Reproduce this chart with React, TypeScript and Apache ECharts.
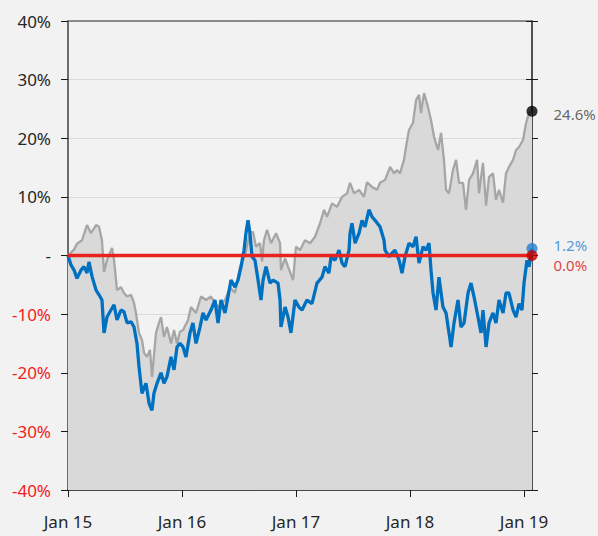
import React, { useEffect, useRef } from "react";
import * as echarts from "echarts";

// [year, % change]
const indexSeries: [number, number][] = [
  [2015.0, 0], [2015.026, 0.5], [2015.053, 1.0], [2015.079, 2.0], [2015.123, 2.6], [2015.158, 4.7],
  [2015.167, 5.2], [2015.202, 3.8], [2015.246, 5.2], [2015.272, 4.9], [2015.298, 2.6], [2015.316, -2.8],
  [2015.342, -0.8], [2015.386, 1.3], [2015.404, -0.8], [2015.43, -5.9], [2015.465, -5.4], [2015.491, -6.4],
  [2015.518, -7.0], [2015.553, -6.7], [2015.579, -8.1], [2015.596, -9.8], [2015.623, -13.2], [2015.649, -14.4],
  [2015.667, -16.6], [2015.693, -17.3], [2015.719, -16.1], [2015.737, -20.7], [2015.772, -13.2], [2015.798, -11.5],
  [2015.816, -10.5], [2015.842, -13.9], [2015.868, -12.2], [2015.904, -15.0], [2015.93, -12.7], [2015.956, -15.0],
  [2015.982, -13.0], [2016.009, -12.7], [2016.053, -11.0], [2016.079, -8.8], [2016.123, -9.8], [2016.167, -7.0],
  [2016.211, -7.6], [2016.254, -7.0], [2016.316, -8.8], [2016.377, -7.6], [2016.421, -5.4], [2016.465, -6.4],
  [2016.509, -1.9], [2016.553, 0], [2016.596, 4.0], [2016.623, 4.0], [2016.649, 1.5], [2016.684, 2.1],
  [2016.702, -1.0], [2016.719, 2.6], [2016.746, 4.4], [2016.781, 2.1], [2016.825, 3.8], [2016.86, 2.1],
  [2016.868, -2.5], [2016.904, -0.5], [2016.93, -1.9], [2016.974, -4.2], [2017.0, 1.5], [2017.035, 0.9],
  [2017.079, 2.6], [2017.123, 2.1], [2017.167, 3.2], [2017.211, 5.5], [2017.246, 7.8], [2017.272, 6.6],
  [2017.316, 8.9], [2017.36, 8.3], [2017.404, 10.0], [2017.447, 10.6], [2017.474, 12.4], [2017.509, 10.6],
  [2017.553, 11.2], [2017.596, 10.0], [2017.623, 12.5], [2017.667, 11.7], [2017.711, 11.2], [2017.737, 12.4],
  [2017.781, 12.9], [2017.825, 15.1], [2017.86, 14.0], [2017.886, 14.6], [2017.912, 14.0], [2017.947, 16.3],
  [2017.965, 18.5], [2017.991, 21.4], [2018.026, 22.6], [2018.053, 26.5], [2018.079, 27.4], [2018.096, 24.3],
  [2018.123, 27.7], [2018.158, 25.3], [2018.184, 23.1], [2018.211, 20.2], [2018.246, 18.0], [2018.272, 20.9],
  [2018.298, 16.3], [2018.316, 11.2], [2018.342, 10.6], [2018.377, 14.6], [2018.404, 16.3], [2018.43, 12.4],
  [2018.465, 12.4], [2018.491, 7.8], [2018.518, 12.9], [2018.553, 14.0], [2018.588, 16.3], [2018.605, 10.6],
  [2018.64, 15.8], [2018.667, 8.5], [2018.693, 13.4], [2018.728, 14.0], [2018.754, 9.5], [2018.781, 11.2],
  [2018.816, 9.0], [2018.842, 14.0], [2018.868, 15.1], [2018.904, 16.3], [2018.93, 18.0], [2018.956, 18.5],
  [2018.991, 19.7], [2019.018, 22.6], [2019.044, 24.3], [2019.07, 24.6],
];

const fundSeries: [number, number][] = [
  [2015.0, 0], [2015.026, -1.6], [2015.053, -2.5], [2015.079, -3.9], [2015.114, -2.5], [2015.14, -1.9],
  [2015.167, -3.0], [2015.184, -1.1], [2015.211, -3.6], [2015.246, -5.9], [2015.272, -6.7], [2015.298, -7.6],
  [2015.316, -13.2], [2015.342, -10.5], [2015.377, -9.3], [2015.404, -8.4], [2015.43, -11.0], [2015.465, -9.3],
  [2015.491, -9.6], [2015.518, -11.5], [2015.553, -11.3], [2015.579, -12.2], [2015.605, -15.0], [2015.623, -19.0],
  [2015.649, -23.5], [2015.684, -21.8], [2015.711, -25.2], [2015.737, -26.4], [2015.754, -23.5], [2015.781, -21.8],
  [2015.816, -20.0], [2015.842, -21.8], [2015.868, -20.7], [2015.904, -17.3], [2015.93, -19.5], [2015.956, -15.6],
  [2015.982, -15.0], [2016.009, -15.6], [2016.035, -17.3], [2016.07, -13.2], [2016.096, -11.5], [2016.123, -15.0],
  [2016.158, -12.2], [2016.184, -9.8], [2016.211, -11.0], [2016.254, -9.3], [2016.289, -7.6], [2016.316, -11.5],
  [2016.342, -7.6], [2016.377, -9.8], [2016.404, -7.0], [2016.43, -4.2], [2016.465, -5.4], [2016.491, -4.2],
  [2016.518, -1.9], [2016.544, 0.9], [2016.561, 3.8], [2016.579, 6.0], [2016.596, 3.8], [2016.614, -0.2],
  [2016.64, -0.8], [2016.667, -4.2], [2016.693, -7.6], [2016.711, -4.2], [2016.737, -1.9], [2016.772, -4.7],
  [2016.798, -4.2], [2016.842, -4.7], [2016.86, -7.6], [2016.868, -12.2], [2016.904, -8.8], [2016.93, -10.5],
  [2016.956, -13.2], [2016.991, -7.6], [2017.026, -8.8], [2017.053, -9.3], [2017.096, -7.6], [2017.14, -8.2],
  [2017.184, -4.7], [2017.228, -3.7], [2017.254, -1.9], [2017.289, -3.0], [2017.307, -0.2], [2017.342, -0.8],
  [2017.377, 0.9], [2017.404, -1.3], [2017.43, -1.9], [2017.465, 0.9], [2017.474, 3.8], [2017.491, 5.5],
  [2017.518, 2.1], [2017.553, 3.8], [2017.579, 6.0], [2017.605, 4.9], [2017.64, 7.8], [2017.667, 6.6],
  [2017.693, 6.0], [2017.737, 4.9], [2017.772, 2.6], [2017.781, 0.9], [2017.816, -0.2], [2017.842, 0.4],
  [2017.868, 0.9], [2017.904, -0.8], [2017.93, -3.0], [2017.956, -0.2], [2017.991, 2.1], [2018.026, 1.5],
  [2018.053, 3.2], [2018.079, -1.3], [2018.114, 1.5], [2018.14, 0.9], [2018.167, 2.1], [2018.184, -2.5],
  [2018.202, -6.4], [2018.228, -9.3], [2018.254, -3.7], [2018.289, -8.8], [2018.316, -9.8], [2018.342, -13.2],
  [2018.36, -15.6], [2018.386, -11.5], [2018.421, -7.6], [2018.447, -12.2], [2018.474, -11.5], [2018.509, -6.4],
  [2018.535, -4.7], [2018.561, -7.0], [2018.596, -10.5], [2018.623, -13.2], [2018.64, -9.3], [2018.667, -15.6],
  [2018.693, -11.5], [2018.728, -9.8], [2018.754, -11.5], [2018.781, -7.6], [2018.816, -9.8], [2018.842, -6.4],
  [2018.868, -6.4], [2018.904, -9.3], [2018.93, -10.5], [2018.956, -8.2], [2018.982, -9.3], [2019.0, -4.7],
  [2019.026, -0.8], [2019.044, -1.9], [2019.07, 1.2],
];

const baseSeries: [number, number][] = [
  [2015.0, 0], [2019.07, 0],
];

const yearTicks = [2015, 2016, 2017, 2018, 2019];
const yTicks = [-40, -30, -20, -10, 0, 10, 20, 30, 40];

const X_MIN = 2015;
const X_MAX = 2019.07;
const FONT = "'Noto Sans', 'Open Sans', sans-serif";

const GRAY = "#a6a6a6";
const BLUE = "#0070c0";
const RED = "#e8231f";

export default function App() {
  const ref = useRef<HTMLDivElement>(null);

  useEffect(() => {
    if (!ref.current) return;
    const chart = echarts.init(ref.current, null, { renderer: "svg" });

    const last = (s: [number, number][]) => s[s.length - 1];
    const endPoint = (
      s: [number, number][],
      dot: string,
      text: string,
      offsetY: number
    ) => ({
      value: last(s),
      itemStyle: { color: dot },
      label: {
        show: true,
        position: "right",
        distance: 16,
        offset: [0, offsetY],
        color: text,
        fontSize: 15,
        lineHeight: 16,
        fontFamily: FONT,
        formatter: () => `${last(s)[1].toFixed(1)}%`,
      },
    });

    const xBase = {
      type: "value",
      min: X_MIN,
      max: X_MAX,
      interval: 1,
      splitLine: { show: false },
    };
    const yBase = {
      type: "value",
      min: -40,
      max: 40,
      interval: 10,
    };

    chart.setOption({
      animation: false,
      backgroundColor: "#f2f2f2",
      grid: { left: 68, right: 66, top: 21, bottom: 46, containLabel: false },
      xAxis: [
        {
          ...xBase,
          position: "bottom",
          axisLine: { show: true, onZero: false, lineStyle: { color: "#1a1a1a", width: 1.5 } },
          axisTick: { show: true, length: 7, customValues: yearTicks, lineStyle: { color: "#1a1a1a" } },
          axisLabel: {
            customValues: yearTicks,
            margin: 23,
            fontSize: 17,
            fontFamily: FONT,
            color: "#262626",
            formatter: (v: number) => `Jan ${Math.round(v) % 100}`,
          },
        },
        {
          ...xBase,
          position: "bottom",
          axisLine: { show: false, onZero: false },
          axisTick: { show: true, inside: true, length: 7, customValues: yearTicks, lineStyle: { color: "#1a1a1a" } },
          axisLabel: { show: false },
        },
        {
          ...xBase,
          position: "top",
          axisLine: { show: true, onZero: false, lineStyle: { color: "#6e6e6e", width: 1.5 } },
          axisTick: { show: false },
          axisLabel: { show: false },
        },
      ],
      yAxis: [
        {
          ...yBase,
          position: "left",
          axisLine: { show: true, onZero: false, lineStyle: { color: "#404040", width: 1.5 } },
          axisTick: { show: true, length: 7, customValues: yTicks, lineStyle: { color: "#1a1a1a" } },
          splitLine: { show: true, lineStyle: { color: "#d9d9d9", width: 1 } },
          axisLabel: {
            margin: 17,
            fontSize: 17,
            fontFamily: FONT,
            formatter: (v: number) => (v === 0 ? "-" : `${v}%`),
            color: (v: any) => (Number(v) < 0 ? "#f21c1c" : "#262626"),
          },
        },
        {
          ...yBase,
          position: "right",
          axisLine: { show: true, onZero: false, lineStyle: { color: "#1a1a1a", width: 1.5 } },
          axisTick: { show: true, length: 6, lineStyle: { color: "#1a1a1a" } },
          splitLine: { show: false },
          axisLabel: { show: false },
        },
        {
          ...yBase,
          position: "right",
          axisLine: { show: false, onZero: false },
          axisTick: { show: true, inside: true, length: 6, lineStyle: { color: "#1a1a1a" } },
          splitLine: { show: false },
          axisLabel: { show: false },
        },
      ],
      series: [
        {
          type: "line",
          name: "Index",
          data: indexSeries,
          showSymbol: false,
          symbol: "none",
          lineStyle: { color: GRAY, width: 2.3 },
          areaStyle: { color: "#d9d9d9", opacity: 1, origin: "start" },
          z: 2,
        },
        {
          type: "line",
          name: "Fund",
          data: fundSeries,
          showSymbol: false,
          symbol: "none",
          lineStyle: { color: BLUE, width: 3.3 },
          z: 3,
        },
        {
          type: "line",
          name: "Base",
          data: baseSeries,
          showSymbol: false,
          symbol: "none",
          lineStyle: { color: RED, width: 3.5 },
          z: 4,
        },
        {
          type: "scatter",
          symbolSize: 11,
          z: 5,
          data: [
            endPoint(indexSeries, "#000000", "#404040", 3),
            endPoint(fundSeries, "#1f7fd0", "#2a80d0", -3),
            endPoint(baseSeries, "#c00000", "#d81010", 9),
          ],
        },
      ],
    });

    return () => chart.dispose();
  }, []);

  return (
    <div
      ref={ref}
      style={{ position: "absolute", left: 0, top: 0, width: 598, height: 536, background: "#f2f2f2" }}
    />
  );
}
